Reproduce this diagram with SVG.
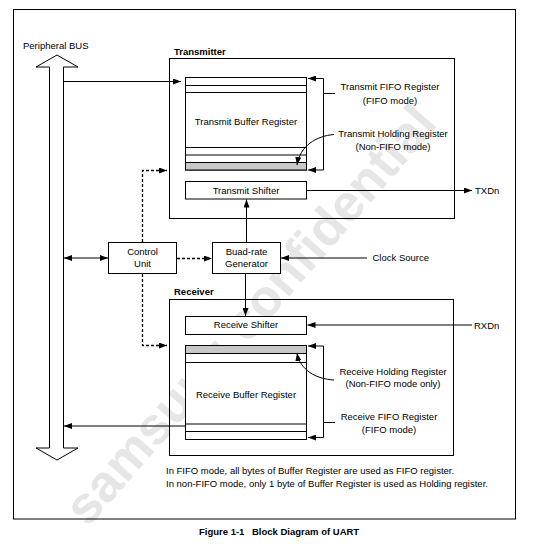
<svg xmlns="http://www.w3.org/2000/svg" width="540" height="547" viewBox="0 0 540 547">
<defs>
<marker id="ah" viewBox="0 0 8 6" refX="8" refY="3" markerWidth="8" markerHeight="6" markerUnits="userSpaceOnUse" orient="auto-start-reverse">
<path d="M0,0 L8,3 L0,6 z" fill="#000"/>
</marker>
</defs>
<style>
text{font-family:"Liberation Sans",Arial,sans-serif;font-size:9.5px;fill:#000}
.b{font-weight:bold}
.m{text-anchor:middle}
.box{fill:#fff;stroke:#000;stroke-width:1}
.ln{fill:none;stroke:#000;stroke-width:1}
.ds{fill:none;stroke:#000;stroke-width:1.3;stroke-dasharray:3,2}
.wm{font-family:"Liberation Sans",Arial,sans-serif;font-weight:bold;font-size:52px;fill:#e6e6e6}
</style>
<rect x="0" y="0" width="540" height="547" fill="#fff"/>
<text class="wm" transform="translate(88,528) rotate(-49)">samsung confidential</text>
<rect x="13.5" y="9.5" width="502" height="509.5" fill="none" stroke="#000"/>

<g id="bus">
<polygon class="ln" points="49.5,67 36,67 57,55 78,67 63.5,67 63.5,448 78,448 57,460 36,448 49.5,448"/>
<text x="23" y="48.5">Peripheral BUS</text>
</g>

<g id="transmitter">
<rect class="ln" x="169.5" y="58.5" width="285" height="160"/>
<text class="b" x="174" y="54.5">Transmitter</text>
</g>
<g id="tx-buffer">
<rect class="box" x="185.5" y="77.5" width="121" height="92.5"/>
<rect x="185.5" y="162.5" width="121" height="7.5" fill="#c8c8c8" stroke="#000"/>
<path class="ln" d="M185.5,85.5H306.5M185.5,92.5H306.5M185.5,147.5H306.5M185.5,155H306.5"/>
<text class="m" x="246" y="124.5">Transmit Buffer Register</text>
</g>
<g id="tx-shifter">
<rect class="box" x="185.5" y="181.5" width="121" height="17.5"/>
<text class="m" x="246" y="194">Transmit Shifter</text>
</g>
<g id="tx-fifo-label">
<text class="m" x="390" y="90">Transmit FIFO Register</text>
<text class="m" x="390" y="103.5">(FIFO mode)</text>
</g>
<g id="tx-hold-label">
<text class="m" x="393" y="137">Transmit Holding Register</text>
<text class="m" x="393" y="149.5">(Non-FIFO mode)</text>
</g>

<g id="control-unit">
<rect class="box" x="108.5" y="242.5" width="68" height="31"/>
<text class="m" x="142.5" y="255">Control</text>
<text class="m" x="142.5" y="267">Unit</text>
</g>
<g id="baud-rate">
<rect class="box" x="212.5" y="242.5" width="68" height="31"/>
<text class="m" x="246.5" y="255">Buad-rate</text>
<text class="m" x="246.5" y="267">Generator</text>
</g>
<text x="372.5" y="261">Clock Source</text>

<g id="receiver">
<rect class="ln" x="169.5" y="299.5" width="284" height="156"/>
<text class="b" x="174" y="294.5">Receiver</text>
</g>
<g id="rx-shifter">
<rect class="box" x="185.5" y="316.5" width="121" height="18"/>
<text class="m" x="246" y="328">Receive Shifter</text>
</g>
<g id="rx-buffer">
<rect class="box" x="185.5" y="345.5" width="121" height="94"/>
<rect x="185.5" y="345.5" width="121" height="8" fill="#c8c8c8" stroke="#000"/>
<path class="ln" d="M185.5,362.5H306.5M185.5,424H306.5M185.5,431.5H306.5"/>
<text class="m" x="246" y="398">Receive Buffer Register</text>
</g>
<g id="rx-hold-label">
<text class="m" x="393" y="374.5">Receive Holding Register</text>
<text class="m" x="393" y="387">(Non-FIFO mode only)</text>
</g>
<g id="rx-fifo-label">
<text class="m" x="389" y="420">Receive FIFO Register</text>
<text class="m" x="389" y="432.5">(FIFO mode)</text>
</g>
<text x="475" y="194">TXDn</text>
<text x="474" y="328.5">RXDn</text>

<g id="connectors">
<path class="ln" d="M63.5,81.5H181" marker-end="url(#ah)"/>
<path class="ds" d="M142.5,242V170.5H167" marker-end="url(#ah)"/>
<path class="ds" d="M142.5,274V345.5H167" marker-end="url(#ah)"/>
<path class="ds" d="M177,258.5H212" marker-end="url(#ah)"/>
<path class="ln" d="M64,258H108" marker-start="url(#ah)" marker-end="url(#ah)"/>
<path class="ln" d="M246.5,242V199.5" marker-end="url(#ah)"/>
<path class="ln" d="M245.5,274V316" marker-end="url(#ah)"/>
<path class="ln" d="M367,258H281" marker-end="url(#ah)"/>
<path class="ln" d="M306.5,190.5H472" marker-end="url(#ah)"/>
<path class="ln" d="M472,325H307.5" marker-end="url(#ah)"/>
<path class="ln" d="M185,426H64" marker-end="url(#ah)"/>
<path class="ln" d="M323.5,78.5H308" marker-end="url(#ah)"/>
<path class="ln" d="M323.5,170H308" marker-end="url(#ah)"/>
<path class="ln" d="M323.5,78.5V170M323.5,93.5H335"/>
<path class="ln" d="M323.5,346H308" marker-end="url(#ah)"/>
<path class="ln" d="M323.5,437.5H308" marker-end="url(#ah)"/>
<path class="ln" d="M323.5,346V437.5M323.5,422.5H335"/>
<path class="ln" d="M334,134.5C316,136 300,146 297,165" marker-end="url(#ah)"/>
<path class="ln" d="M334,380C316,379 300,370 297,353" marker-end="url(#ah)"/>
</g>

<g id="notes">
<text x="166" y="474">In FIFO mode, all bytes of Buffer Register are used as FIFO register.</text>
<text x="166" y="486.5">In non-FIFO mode, only 1 byte of Buffer Register is used as Holding register.</text>
</g>
<text class="b" x="199" y="534.5">Figure 1-1</text>
<text class="b" x="252" y="534.5">Block Diagram of UART</text>
</svg>
